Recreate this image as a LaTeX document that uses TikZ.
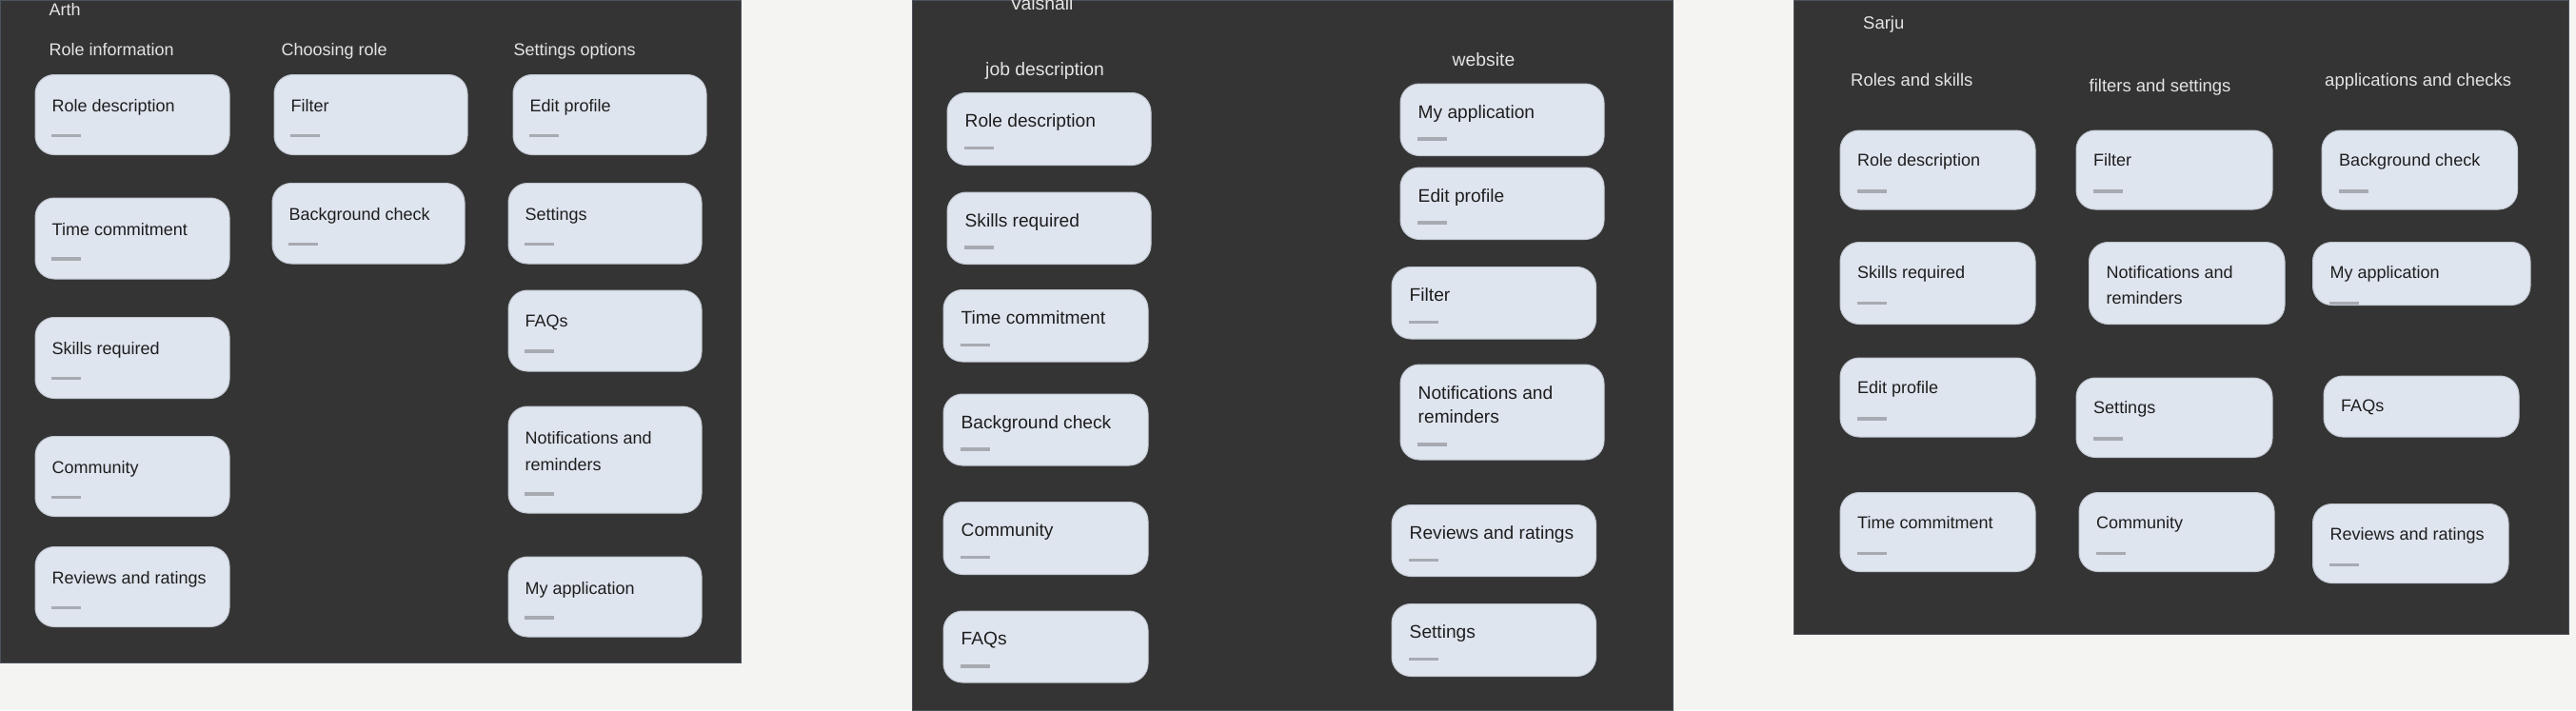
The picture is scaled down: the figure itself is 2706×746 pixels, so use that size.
\documentclass[tikz,border=0pt]{standalone}
\usepackage{fontspec}
\setmainfont{Liberation Sans}
\usetikzlibrary{calc}
\definecolor{pagebg}{HTML}{F4F4F2}
\definecolor{boardbg}{HTML}{343434}
\definecolor{boardedge}{HTML}{4C525A}
\definecolor{cardbg}{HTML}{DFE5EF}
\definecolor{cardline}{HTML}{C2C8D1}
\definecolor{stubgray}{HTML}{A7ABB1}
\definecolor{headtxt}{HTML}{E4E4E4}
\definecolor{cardtxt}{HTML}{1E1E1E}

% sticky card: name, top left, width, height, text
\newcommand{\cardonly}[5]{%
  \node[card, minimum width=#3*0.1mm, minimum height=#4*0.1mm] (#1) at (#2) {};
  \node[cardtext] (#1t) at ($(#1.north west)+(\tx,\ty)$) {#5};}
\newcommand{\card}[6][0]{%
  \cardonly{#2}{#3}{#4}{#5}{#6}
  \draw[stub] ($(#2.north west)+(\tx,\dy+#1)$) -- ++(31,0);}

\begin{document}
\begin{tikzpicture}[x=0.1mm, y=-0.1mm,
  board/.style={fill=boardbg, draw=boardedge, line width=0.1mm},
  card/.style={draw=cardline, line width=0.1mm, fill=cardbg, rounded corners=2mm, inner sep=0pt, outer sep=0pt, anchor=north west},
  cardtext/.style={anchor=north west, inner sep=0pt, align=left, text=cardtxt, font=\fontsize{5.12pt}{7.97pt}\selectfont},
  head/.style={anchor=base west, inner sep=0pt, text=headtxt, font=\fontsize{5.12pt}{6pt}\selectfont},
  stub/.style={draw=stubgray, line width=0.38mm}
]
  \useasboundingbox[fill=pagebg] (0,0) rectangle (2706,746);

  % boards
  \filldraw[board] (0,0) rectangle (778,696);
  \filldraw[board] (958,0) rectangle (1757,746);
  \filldraw[board] (1884,0) rectangle (2698,666);

  % Arth
  \begin{scope}
    \def\tx{17}\def\ty{25.5}\def\dy{64}
    \node[head] (arth) at (51,16.5) {Arth};
    \node[head] (arthA) at (51,58) {Role information};
    \node[head] (arthB) at (295,58) {Choosing role};
    \node[head] (arthC) at (539,58) {Settings options};
    \card{a1}{37,78.5}{204}{84}{Role description}
    \card{a2}{37,208}{204}{85}{Time commitment}
    \card{a3}{37,333.5}{204}{85}{Skills required}
    \card{a4}{37,458.5}{204}{84}{Community}
    \card{a5}{37,574.5}{204}{84}{Reviews and ratings}
    \card{b1}{288,78.5}{203}{84}{Filter}
    \card{b2}{286,192.5}{202}{84.5}{Background check}
    \card{c1}{539,78.5}{203}{84}{Edit profile}
    \card{c2}{534,192.5}{203}{84.5}{Settings}
    \card{c3}{534,305}{203}{85}{FAQs}
    \card[28]{c4}{534,427}{203}{112}{Notifications and\\reminders}
    \card{c5}{534,585}{203}{84}{My application}
  \end{scope}

  % Vaishali
  \begin{scope}[cardtext/.append style={font=\fontsize{5.45pt}{7.3pt}\selectfont},
      head/.append style={font=\fontsize{5.5pt}{6pt}\selectfont}]
    \def\tx{18}\def\ty{21.5}\def\dy{58}
    \node[head] (vais) at (1060.5,10) {Vaishali};
    \node[head] (vaisA) at (1034.5,79) {job description};
    \node[head] (vaisB) at (1525,69.5) {website};
    \card{v1}{995,97.5}{214}{76}{Role description}
    \card{v2}{995,202}{214}{75.5}{Skills required}
    \card{v3}{991,304.5}{215}{75.5}{Time commitment}
    \card{v4}{991,414}{215}{75}{Background check}
    \card{v5}{991,527.5}{215}{76}{Community}
    \card{v6}{991,642}{215}{75}{FAQs}
    \card{w1}{1471,88}{214}{75.5}{My application}
    \card{w2}{1471,176}{214}{75.5}{Edit profile}
    \card{w3}{1462,280.5}{214.5}{75.5}{Filter}
    \card[25.7]{w4}{1471,383}{214}{100}{Notifications and\\reminders}
    \card{w5}{1462,530.5}{214.5}{75}{Reviews and ratings}
    \card{w6}{1462,634.5}{214.5}{76}{Settings}
  \end{scope}

  % Sarju
  \begin{scope}[cardtext/.append style={font=\fontsize{5.12pt}{7.85pt}\selectfont},
      head/.append style={font=\fontsize{5.25pt}{6pt}\selectfont}]
    \def\tx{17.5}\def\ty{24}\def\dy{64}
    \node[head] (sarju) at (1956.5,30) {Sarju};
    \node[head] (sarjuA) at (1943.5,90.5) {Roles and skills};
    \node[head] (sarjuB) at (2194,96.5) {filters and settings};
    \node[head] (sarjuC) at (2441.5,90.5) {applications and checks};
    \card{s1}{1933,137}{205}{83}{Role description}
    \card{s2}{1933,254.5}{205}{86}{Skills required}
    \card{s3}{1933,376}{205}{83}{Edit profile}
    \card{s4}{1933,517.5}{205}{83}{Time commitment}
    \card{t1}{2181,137}{206}{83}{Filter}
    \cardonly{t2}{2194.5,254.5}{205.5}{86}{Notifications and\\reminders}
    \card{t3}{2181,397}{206}{83.5}{Settings}
    \card{t4}{2184,517.5}{205}{83}{Community}
    \card{u1}{2439,137}{205.5}{83}{Background check}
    \card{u2}{2429.5,254.5}{228.5}{66}{My application}
    \cardonly{u3}{2441,395}{205}{64}{FAQs}
    \card{u4}{2429.5,529.5}{205.5}{83}{Reviews and ratings}
  \end{scope}
\end{tikzpicture}
\end{document}
